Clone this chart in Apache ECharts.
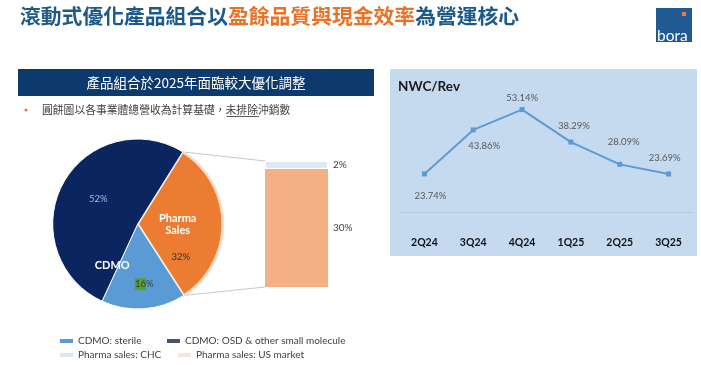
<!DOCTYPE html>
<html><head><meta charset="utf-8">
<script src="https://cdn.jsdelivr.net/npm/echarts@6/dist/echarts.min.js"></script>
<style>html,body{margin:0;padding:0;background:#fff}#c{width:701px;height:365px}</style>
</head><body><div id="c"></div>
<script>
// ---- data ----
const pieNames = ['Pharma Sales', 'CDMO: sterile', 'CDMO: OSD & other small molecule'];
const pieValues = [32, 16, 52];
const barNames = ['Pharma sales: US market', 'Pharma sales: CHC'];
const barValues = [30, 2];
const quarters = ['2Q24', '3Q24', '4Q24', '1Q25', '2Q25', '3Q25'];
const nwcRev = [23.74, 43.86, 53.14, 38.29, 28.09, 23.69];

// ---- styles / layout ----
const CJK = '"Noto Sans CJK TC", "Noto Sans CJK SC", sans-serif';
const LAT = 'Lato, "Open Sans", sans-serif';
const PIE_C = [137.7, 224], PIE_R = 85, PIE_START = 58;
const GRID0 = {left: 265, width: 63, top: 161, height: 126};
const pieColors = ['#ec7c31', '#5b9bd5', '#0b2561'];
const barColors = ['#f4b183', '#dfe8f3'];
const pieLabelColors = ['#333333', '#3a3a3a', '#a3bde0'];
const pieLabelAnchor = [[180.7, 256.7], [144.3, 284.3], [98.3, 199]];
const lineLabelPos = [
  {position: 'bottom', distance: 15, offset: [6, 0]},
  {position: 'bottom', distance: 9, offset: [11, 0]},
  {position: 'top', distance: 4, offset: [0, 0]},
  {position: 'top', distance: 9, offset: [3, 0]},
  {position: 'top', distance: 15, offset: [4, 0]},
  {position: 'top', distance: 9, offset: [-4, 0]}
];
const barTotal = barValues.reduce((a, b) => a + b, 0);
const pieTotal = pieValues.reduce((a, b) => a + b, 0);

const chart = echarts.init(document.getElementById('c'), null, {renderer: 'canvas'});

function legend(name, color, left, top) {
  return {
    left: left, top: top, padding: 0, itemWidth: 13, itemHeight: 4, itemGap: 0,
    icon: 'rect', selectedMode: false,
    textStyle: {fontSize: 10, color: '#404040', fontFamily: LAT},
    data: [{name: name, icon: 'rect', itemStyle: {color: color, borderWidth: 0}}]
  };
}

const baseGraphic = [
  {type: 'rect', z: 0, shape: {x: 390, y: 69, width: 307, height: 187}, style: {fill: '#c6daef'}},
  {type: 'text', z: 1, x: 398, y: 87, style: {text: 'NWC/Rev', font: 'bold 13.5px ' + LAT, fill: '#1a1a1a', verticalAlign: 'middle'}},
  {type: 'text', z: 1, x: 20, y: 16, style: {
    text: '{b|滾動式優化產品組合以}{o|盈餘品質與現金效率}{b|為營運核心}',
    verticalAlign: 'middle',
    rich: {
      b: {fontFamily: CJK, fontWeight: 'bold', fontSize: 20.8, fill: '#1c5a8b', color: '#1c5a8b'},
      o: {fontFamily: CJK, fontWeight: 'bold', fontSize: 20.8, fill: '#ea7226', color: '#ea7226'}
    }}},
  {type: 'rect', z: 1, shape: {x: 656, y: 8, width: 36, height: 34}, style: {fill: '#1f5a92'}},
  {type: 'rect', z: 2, shape: {x: 682, y: 12, width: 4, height: 4}, style: {fill: '#ec7c31'}},
  {type: 'text', z: 2, x: 657, y: 35.5, style: {text: 'bora', font: '15.5px ' + LAT, fill: '#ffffff', verticalAlign: 'middle'}},
  {type: 'rect', z: 1, shape: {x: 18, y: 69, width: 356, height: 27}, style: {fill: '#0d3a6c'}},
  {type: 'text', z: 2, x: 196, y: 83, style: {text: '產品組合於2025年面臨較大優化調整', font: '13.5px ' + CJK, fill: '#ffffff', align: 'center', verticalAlign: 'middle'}},
  {type: 'circle', z: 1, shape: {cx: 26, cy: 110, r: 1.6}, style: {fill: '#e97a2e'}},
  {type: 'text', z: 1, x: 42, y: 110, style: {text: '圓餅圖以各事業體總營收為計算基礎，未排除沖銷數', font: '10.8px ' + CJK, fill: '#404040', verticalAlign: 'middle'}},
  {type: 'line', z: 1, shape: {x1: 226.5, y1: 116.5, x2: 259, y2: 116.5}, style: {stroke: '#333', lineWidth: 0.8}},
  {type: 'text', z: 10, x: 177.7, y: 224.3, style: {text: 'Pharma\nSales', font: 'bold 11px ' + LAT, fill: '#ffffff', align: 'center', verticalAlign: 'middle', lineHeight: 11.5}},
  {type: 'text', z: 10, x: 112.3, y: 265.7, style: {text: 'CDMO', font: 'bold 11px ' + LAT, fill: '#ffffff', align: 'center', verticalAlign: 'middle'}}
];

const option = {
  animation: false,
  backgroundColor: '#ffffff',
  legend: [
    legend('CDMO: sterile', '#5b9bd5', 60, 336),
    legend('CDMO: OSD & other small molecule', '#44546a', 167, 336),
    legend('Pharma sales: CHC', '#dce6f1', 60, 350),
    legend('Pharma sales: US market', '#fbe5d6', 178, 350)
  ],
  grid: [
    {left: GRID0.left, width: GRID0.width, top: GRID0.top, height: GRID0.height},
    {left: 400, width: 293, top: 94.6, height: 118.1}
  ],
  xAxis: [
    {type: 'category', gridIndex: 0, data: ['Pharma'], show: false},
    {type: 'category', gridIndex: 1, data: quarters, boundaryGap: true,
      axisLine: {onZero: false, lineStyle: {color: '#b2c9e3', width: 1}},
      axisTick: {show: false},
      axisLabel: {margin: 24, fontFamily: LAT, fontWeight: 'bold', fontSize: 10.5, color: '#111111'}}
  ],
  yAxis: [
    {type: 'value', gridIndex: 0, min: 0, max: barTotal, show: false},
    {type: 'value', gridIndex: 1, min: 6, max: 60, show: false}
  ],
  series: [
    {
      type: 'pie', center: PIE_C, radius: PIE_R, startAngle: PIE_START, clockwise: true,
      avoidLabelOverlap: false, silent: true, emphasis: {disabled: true}, z: 3,
      labelLine: {show: false},
      label: {show: true, position: 'inside', fontFamily: LAT, fontSize: 9.5,
        formatter: p => p.dataIndex === 1 ? '{h|' + p.value + '}{p|%}' : p.value + '%',
        rich: {h: {backgroundColor: '#57a12a', color: '#3a3a3a', fontSize: 9.5, fontFamily: LAT, padding: [1, 0, 1, 0]},
               p: {color: '#3a3a3a', fontSize: 9.5, fontFamily: LAT}}},
      labelLayout: p => ({x: pieLabelAnchor[p.dataIndex][0], y: pieLabelAnchor[p.dataIndex][1], align: 'center', verticalAlign: 'middle'}),
      data: pieNames.map((n, i) => ({
        name: n, value: pieValues[i],
        itemStyle: {color: pieColors[i], borderColor: i === 0 ? '#fadcc6' : '#ffffff', borderWidth: i === 0 ? 2.5 : 1},
        label: {color: pieLabelColors[i]}
      }))
    },
    ...barNames.map((n, i) => ({
      type: 'bar', name: n, stack: 'ps', xAxisIndex: 0, yAxisIndex: 0, barWidth: '100%', silent: true,
      data: [barValues[i]],
      itemStyle: {color: barColors[i], borderColor: '#ffffff', borderWidth: i === 1 ? 1 : 0},
      label: {show: true, position: 'right', distance: 5, formatter: '{c}%', color: '#404040', fontSize: 10, fontFamily: LAT}
    })),
    {
      type: 'line', xAxisIndex: 1, yAxisIndex: 1, silent: true,
      symbol: 'rect', symbolSize: 5,
      lineStyle: {color: '#5b9bd5', width: 2},
      itemStyle: {color: '#5b9bd5'},
      label: {show: true, fontFamily: LAT, fontSize: 9.5, color: '#595959',
        formatter: p => p.value.toFixed(2) + '%'},
      data: nwcRev.map((v, i) => ({value: v, label: lineLabelPos[i]}))
    }
  ],
  graphic: {elements: baseGraphic}
};
chart.setOption(option);

// connector lines from the Pharma slice edges to the stacked bar
const a0 = (90 - PIE_START) * Math.PI / 180;
const a1 = a0 + pieValues[0] / pieTotal * 2 * Math.PI;
const pTop = [PIE_C[0] + PIE_R * Math.sin(a0), PIE_C[1] - PIE_R * Math.cos(a0)];
const pBot = [PIE_C[0] + PIE_R * Math.sin(a1), PIE_C[1] - PIE_R * Math.cos(a1)];
const bTop = chart.convertToPixel({xAxisIndex: 0, yAxisIndex: 0}, [0, barTotal]);
const bBot = chart.convertToPixel({xAxisIndex: 0, yAxisIndex: 0}, [0, 0]);
const bx = bTop[0] - GRID0.width / 2;
chart.setOption({graphic: {elements: baseGraphic.concat([
  {type: 'line', z: 1, shape: {x1: pTop[0], y1: pTop[1], x2: bx, y2: bTop[1]}, style: {stroke: '#c8c8c8', lineWidth: 1}},
  {type: 'line', z: 1, shape: {x1: pBot[0], y1: pBot[1], x2: bx, y2: bBot[1]}, style: {stroke: '#c8c8c8', lineWidth: 1}}
])}});
</script>
</body></html>
